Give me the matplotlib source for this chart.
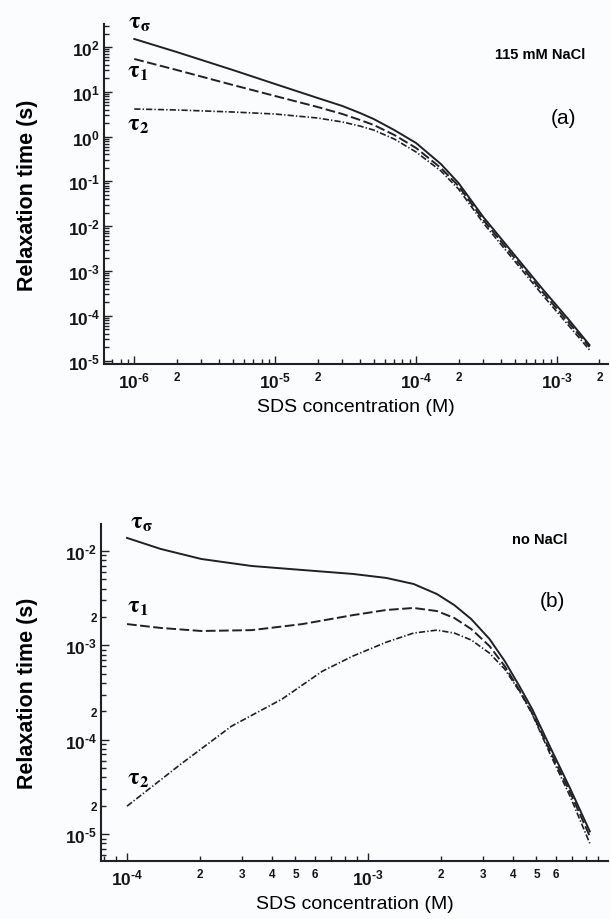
import numpy as np
import matplotlib.pyplot as plt
from matplotlib.ticker import LogLocator, FuncFormatter

plt.rcParams['font.family'] = 'Liberation Sans'
plt.rcParams['font.weight'] = 'bold'
plt.rcParams['mathtext.default'] = 'regular'
plt.rcParams['lines.scale_dashes'] = False

# (a) 115 mM NaCl
sds_a = [1.0e-6, 2e-6, 5e-6, 1e-5, 2e-5, 3e-5, 4e-5, 5e-5, 7e-5, 1e-4,
         1.5e-4, 2e-4, 3e-4, 5e-4, 8e-4, 1.2e-3, 1.7e-3]
tau_sigma_a = [151, 77.3, 30.7, 14.9, 7.28, 4.82, 3.36, 2.47, 1.40, 0.719,
               0.244, 0.092, 0.0160, 2.27e-3, 3.77e-4, 8.5e-5, 2.23e-5]
tau_1_a = [54, 30.7, 14.2, 8.05, 4.58, 3.19, 2.35, 1.82, 1.09, 0.557,
           0.199, 0.0789, 0.01374, 1.95e-3, 3.23e-4, 7.27e-5, 2.01e-5]
tau_2_a = [4.13, 3.93, 3.54, 3.19, 2.60, 2.12, 1.72, 1.40, 0.883, 0.453,
           0.171, 0.0676, 0.01178, 1.67e-3, 2.77e-4, 6.24e-5, 1.73e-5]

# (b) no NaCl
sds_b = [1.0e-4, 1.38e-4, 2.03e-4, 3.29e-4, 5.33e-4, 8.65e-4, 1.19e-3,
         1.545e-3, 1.93e-3, 2.28e-3, 2.68e-3, 3.19e-3, 3.69e-3, 4.27e-3,
         4.8e-3, 5.7e-3, 6.92e-3, 8.32e-3]
tau_sigma_b = [0.01374, 0.0105, 8.23e-3, 6.93e-3, 6.29e-3, 5.71e-3, 5.18e-3,
               4.47e-3, 3.50e-3, 2.67e-3, 1.90e-3, 1.17e-3, 6.82e-4, 3.61e-4,
               2.11e-4, 8.35e-5, 2.99e-5, 1.07e-5]
tau_1_b = [1.68e-3, 1.53e-3, 1.42e-3, 1.45e-3, 1.68e-3, 2.09e-3, 2.37e-3,
           2.49e-3, 2.31e-3, 1.95e-3, 1.49e-3, 9.84e-4, 6.03e-4, 3.27e-4,
           1.91e-4, 7.57e-5, 2.72e-5, 9.5e-6]
sds_b2 = [1.0e-4, 1.67e-4, 2.71e-4, 4.4e-4, 6.47e-4, 8.65e-4, 1.19e-3,
          1.545e-3, 1.93e-3, 2.28e-3, 2.68e-3, 3.19e-3, 3.69e-3, 4.27e-3,
          4.8e-3, 5.7e-3, 6.92e-3, 8.32e-3]
tau_2_b = [1.98e-5, 5.51e-5, 1.39e-4, 2.70e-4, 5.33e-4, 7.7e-4, 1.08e-3,
           1.35e-3, 1.45e-3, 1.35e-3, 1.14e-3, 8.28e-4, 5.61e-4, 3.20e-4,
           1.87e-4, 7.03e-5, 2.46e-5, 8.0e-6]

ink = '#1e2224'
bg = '#fbfcfd'
dash_1 = (0, (7, 2.5))
dash_2 = (0, (4.5, 1.5, 1, 1.5))


def major_fmt(v, pos):
    e = int(round(np.log10(v)))
    s = str(e).replace('-', '\u2010')
    return r'$10^{%s}$' % s


def minor_fmt(keep):
    def f(v, pos):
        e = np.floor(np.log10(v) + 1e-9)
        m = v / 10 ** e
        d = int(round(m))
        if d in keep and abs(m - d) < 1e-6:
            return str(d)
        return ''
    return FuncFormatter(f)


def style_axes(ax, xminor, yminor):
    ax.set_xscale('log')
    ax.set_yscale('log')
    ax.set_facecolor(bg)
    for s in ['top', 'right']:
        ax.spines[s].set_visible(False)
    for s in ['left', 'bottom']:
        ax.spines[s].set_linewidth(1.5)
        ax.spines[s].set_color(ink)
    ax.xaxis.set_major_locator(LogLocator(base=10, numticks=20))
    ax.yaxis.set_major_locator(LogLocator(base=10, numticks=20))
    ax.xaxis.set_minor_locator(LogLocator(base=10, subs=np.arange(2, 10), numticks=20))
    ax.yaxis.set_minor_locator(LogLocator(base=10, subs=np.arange(2, 10), numticks=20))
    ax.xaxis.set_major_formatter(FuncFormatter(major_fmt))
    ax.yaxis.set_major_formatter(FuncFormatter(major_fmt))
    ax.xaxis.set_minor_formatter(minor_fmt(xminor))
    ax.yaxis.set_minor_formatter(minor_fmt(yminor))
    ax.tick_params(which='both', direction='in', color=ink, width=1.0,
                   labelcolor='#151515')
    ax.tick_params(which='major', length=6, labelsize=12.5)
    ax.tick_params(which='minor', length=3.5, labelsize=8.5)
    ax.tick_params(axis='x', which='both', pad=5)
    ax.tick_params(axis='y', which='both', pad=3)
    ax.set_xlabel('SDS concentration (M)', fontsize=14, fontweight='normal',
                  labelpad=5.5)
    ax.set_ylabel('Relaxation time (s)', fontsize=15.5, fontweight='bold')


def tau(ax, x, y, s):
    ax.text(x, y, r'$\mathrm{\tau_{%s}}$' % s, transform=ax.transAxes,
            fontsize=17, math_fontfamily='stix', ha='center', va='center',
            clip_on=False)


fig = plt.figure(figsize=(6.1, 9.2), dpi=100, facecolor=bg)

ax1 = fig.add_axes([104 / 610, 1 - 365 / 920, 504 / 610, 340 / 920])
ax1.plot(sds_a, tau_sigma_a, color=ink, lw=1.4)
ax1.plot(sds_a, tau_1_a, color=ink, lw=1.4, linestyle=dash_1)
ax1.plot(sds_a, tau_2_a, color=ink, lw=1.2, linestyle=dash_2)
style_axes(ax1, [2], [])
ax1.set_xlim(6.1e-7, 2.3e-3)
ax1.set_ylim(8.4e-6, 326)
ax1.yaxis.set_label_coords(-0.131, 0.5)

tau(ax1, 0.071, 1.006, r'\sigma')
tau(ax1, 0.067, 0.862, '1')
tau(ax1, 0.067, 0.706, '2')
ax1.text(0.865, 0.912, '115 mM NaCl', transform=ax1.transAxes, fontsize=10.5,
         ha='center', va='center')
ax1.text(0.911, 0.726, '(a)', transform=ax1.transAxes, fontsize=15,
         fontweight='normal', ha='center', va='center')

ax2 = fig.add_axes([101 / 610, 1 - 862 / 920, 507 / 610, 337 / 920])
ax2.plot(sds_b, tau_sigma_b, color=ink, lw=1.4)
ax2.plot(sds_b, tau_1_b, color=ink, lw=1.4, linestyle=dash_1)
ax2.plot(sds_b2, tau_2_b, color=ink, lw=1.2, linestyle=dash_2)
style_axes(ax2, [2, 3, 4, 5, 6], [2])
ax2.set_xlim(7.8e-5, 0.0099)
ax2.set_ylim(5.2e-6, 0.0193)
ax2.yaxis.set_label_coords(-0.124, 0.5)

tau(ax2, 0.079, 1.006, r'\sigma')
tau(ax2, 0.073, 0.757, '1')
tau(ax2, 0.073, 0.249, '2')
ax2.text(0.866, 0.955, 'no NaCl', transform=ax2.transAxes, fontsize=10.5,
         ha='center', va='center')
ax2.text(0.890, 0.772, '(b)', transform=ax2.transAxes, fontsize=15,
         fontweight='normal', ha='center', va='center')

fig.savefig('out.png', dpi=100, facecolor=fig.get_facecolor())
